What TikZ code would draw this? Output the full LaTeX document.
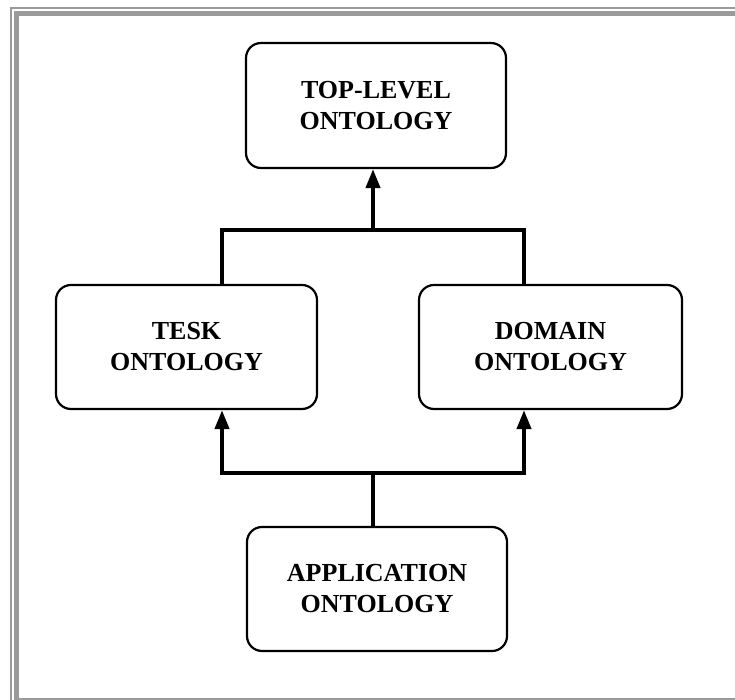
\documentclass[tikz,border=0pt]{standalone}
\usepackage{fontspec}
\setmainfont{Liberation Serif}
\usetikzlibrary{arrows.meta}
\definecolor{framegray}{HTML}{9A9A9A}
\tikzset{
  ontobox/.style={draw=black, line width=2.2pt, rounded corners=15pt, fill=white,
    align=center, inner sep=0pt,
    font=\bfseries\fontsize{26}{31}\selectfont},
  conn/.style={draw=black, line width=4pt, line join=miter},
  tip/.style={-{Triangle[width=14pt,length=19pt]}}
}
\begin{document}
\begin{tikzpicture}[x=1pt,y=-1pt]
\useasboundingbox (0,0) rectangle (735,700);
% double gray frame on the left, top and bottom
\fill[framegray] (10,7) rectangle (735,9);
\fill[framegray] (10,7) rectangle (12,700);
\fill[framegray] (14,11) rectangle (735,16);
\fill[framegray] (14,11) rectangle (19,700);
\fill[framegray] (14,698) rectangle (735,700);

% ontology boxes
\node[ontobox, minimum width=260pt, minimum height=125pt] (top) at (376,105.5) {TOP-LEVEL\\ONTOLOGY};
\node[ontobox, minimum width=261pt, minimum height=124pt] (tesk) at (186.5,347) {TESK\\ONTOLOGY};
\node[ontobox, minimum width=263pt, minimum height=124pt] (domain) at (550.5,347) {DOMAIN\\ONTOLOGY};
\node[ontobox, minimum width=260pt, minimum height=124pt] (app) at (377,589) {APPLICATION\\ONTOLOGY};

% connector junctions
\coordinate (tx) at (222,0);
\coordinate (dx) at (524,0);
\coordinate (jt) at (373,230);
\coordinate (jb) at (373,473);

% upper connector: task and domain up to top-level
\draw[conn] (tx |- tesk.north) |- (jt) -| (dx |- domain.north);
\draw[conn, tip] (jt) -- (jt |- top.south);

% lower connector: application up to task and domain
\draw[conn] (jb |- app.north) -- (jb);
\draw[conn, tip] (jb) -| (tx |- tesk.south);
\draw[conn, tip] (jb) -| (dx |- domain.south);
\end{tikzpicture}
\end{document}
